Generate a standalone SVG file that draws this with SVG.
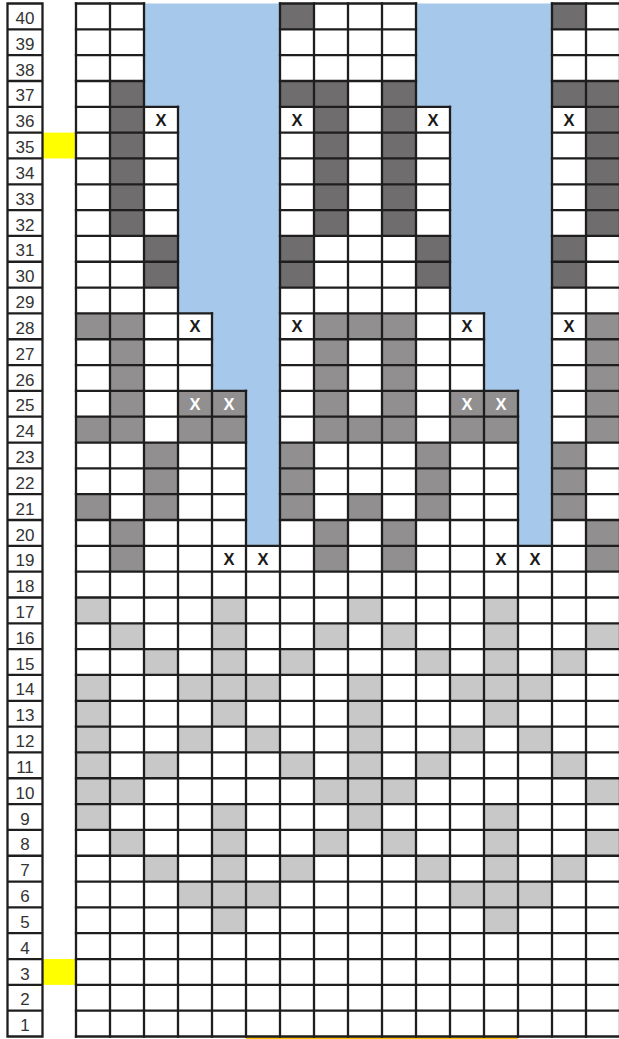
<svg xmlns="http://www.w3.org/2000/svg" width="619" height="1039" viewBox="0 0 619 1039">
<style>
.D{fill:#6f6d6e}
.M{fill:#918f90}
.L{fill:#c8c8c8}
.B{fill:#a6c8ea}
.Y{fill:#ffff00}
.grid{fill:none;stroke:#1e1e1e;stroke-width:2.3;stroke-linecap:square}
.num{font-family:"Liberation Sans",Arial,sans-serif;font-size:17px;fill:#333;text-anchor:middle}
.x{font-family:"Liberation Sans",Arial,sans-serif;font-size:16.5px;font-weight:bold;fill:#1a1a1a;text-anchor:middle}
.xw{fill:#ffffff}
</style>
<rect width="619" height="1039" fill="#ffffff"/>
<g id="highlights">
<rect class="Y" x="42.5" y="132.625" width="33.5" height="25.825"/>
<rect class="Y" x="42.5" y="959.025" width="33.5" height="25.825"/>
<rect x="246" y="1036.6" width="272" height="2.4" fill="#ffc000"/>
</g>
<g id="blue-areas">
<polygon class="B" points="144,3.5 280,3.5 280,545.825 246,545.825 246,390.875 212,390.875 212,313.4 178,313.4 178,106.8 144,106.8"/>
<polygon class="B" points="416,3.5 552,3.5 552,545.825 518,545.825 518,390.875 484,390.875 484,313.4 450,313.4 450,106.8 416,106.8"/>
</g>
<g id="dark-cells">
<rect class="D" x="280" y="3.5" width="34" height="25.825"/>
<rect class="D" x="552" y="3.5" width="34" height="25.825"/>
<rect class="D" x="280" y="80.975" width="34" height="25.825"/>
<rect class="D" x="552" y="80.975" width="34" height="25.825"/>
<rect class="D" x="110" y="80.975" width="34" height="154.95"/>
<rect class="D" x="314" y="80.975" width="34" height="154.95"/>
<rect class="D" x="382" y="80.975" width="34" height="154.95"/>
<rect class="D" x="586" y="80.975" width="34" height="154.95"/>
<rect class="D" x="144" y="235.925" width="34" height="51.65"/>
<rect class="D" x="280" y="235.925" width="34" height="51.65"/>
<rect class="D" x="416" y="235.925" width="34" height="51.65"/>
<rect class="D" x="552" y="235.925" width="34" height="51.65"/>
</g>
<g id="medium-cells">
<rect class="M" x="76" y="313.4" width="34" height="25.825"/>
<rect class="M" x="348" y="313.4" width="34" height="25.825"/>
<rect class="M" x="110" y="313.4" width="34" height="129.125"/>
<rect class="M" x="314" y="313.4" width="34" height="129.125"/>
<rect class="M" x="382" y="313.4" width="34" height="129.125"/>
<rect class="M" x="586" y="313.4" width="34" height="129.125"/>
<rect class="M" x="178" y="390.875" width="68" height="51.65"/>
<rect class="M" x="450" y="390.875" width="68" height="51.65"/>
<rect class="M" x="76" y="416.7" width="34" height="25.825"/>
<rect class="M" x="348" y="416.7" width="34" height="25.825"/>
<rect class="M" x="144" y="442.525" width="34" height="77.475"/>
<rect class="M" x="280" y="442.525" width="34" height="77.475"/>
<rect class="M" x="416" y="442.525" width="34" height="77.475"/>
<rect class="M" x="552" y="442.525" width="34" height="77.475"/>
<rect class="M" x="76" y="494.175" width="34" height="25.825"/>
<rect class="M" x="348" y="494.175" width="34" height="25.825"/>
<rect class="M" x="110" y="520" width="34" height="51.65"/>
<rect class="M" x="314" y="520" width="34" height="51.65"/>
<rect class="M" x="382" y="520" width="34" height="51.65"/>
<rect class="M" x="586" y="520" width="34" height="51.65"/>
</g>
<g id="light-cells">
<rect class="L" x="76" y="597.475" width="34" height="25.825"/>
<rect class="L" x="212" y="597.475" width="34" height="25.825"/>
<rect class="L" x="348" y="597.475" width="34" height="25.825"/>
<rect class="L" x="484" y="597.475" width="34" height="25.825"/>
<rect class="L" x="110" y="623.3" width="34" height="25.825"/>
<rect class="L" x="212" y="623.3" width="34" height="25.825"/>
<rect class="L" x="314" y="623.3" width="34" height="25.825"/>
<rect class="L" x="382" y="623.3" width="34" height="25.825"/>
<rect class="L" x="484" y="623.3" width="34" height="25.825"/>
<rect class="L" x="586" y="623.3" width="34" height="25.825"/>
<rect class="L" x="144" y="649.125" width="34" height="25.825"/>
<rect class="L" x="212" y="649.125" width="34" height="25.825"/>
<rect class="L" x="280" y="649.125" width="34" height="25.825"/>
<rect class="L" x="416" y="649.125" width="34" height="25.825"/>
<rect class="L" x="484" y="649.125" width="34" height="25.825"/>
<rect class="L" x="552" y="649.125" width="34" height="25.825"/>
<rect class="L" x="76" y="674.95" width="34" height="25.825"/>
<rect class="L" x="178" y="674.95" width="102" height="25.825"/>
<rect class="L" x="348" y="674.95" width="34" height="25.825"/>
<rect class="L" x="450" y="674.95" width="102" height="25.825"/>
<rect class="L" x="76" y="700.775" width="34" height="25.825"/>
<rect class="L" x="212" y="700.775" width="34" height="25.825"/>
<rect class="L" x="348" y="700.775" width="34" height="25.825"/>
<rect class="L" x="484" y="700.775" width="34" height="25.825"/>
<rect class="L" x="76" y="726.6" width="34" height="25.825"/>
<rect class="L" x="178" y="726.6" width="34" height="25.825"/>
<rect class="L" x="246" y="726.6" width="34" height="25.825"/>
<rect class="L" x="348" y="726.6" width="34" height="25.825"/>
<rect class="L" x="450" y="726.6" width="34" height="25.825"/>
<rect class="L" x="518" y="726.6" width="34" height="25.825"/>
<rect class="L" x="76" y="752.425" width="34" height="25.825"/>
<rect class="L" x="144" y="752.425" width="34" height="25.825"/>
<rect class="L" x="280" y="752.425" width="34" height="25.825"/>
<rect class="L" x="348" y="752.425" width="34" height="25.825"/>
<rect class="L" x="416" y="752.425" width="34" height="25.825"/>
<rect class="L" x="552" y="752.425" width="34" height="25.825"/>
<rect class="L" x="76" y="778.25" width="68" height="25.825"/>
<rect class="L" x="314" y="778.25" width="102" height="25.825"/>
<rect class="L" x="586" y="778.25" width="34" height="25.825"/>
<rect class="L" x="76" y="804.075" width="34" height="25.825"/>
<rect class="L" x="212" y="804.075" width="34" height="25.825"/>
<rect class="L" x="348" y="804.075" width="34" height="25.825"/>
<rect class="L" x="484" y="804.075" width="34" height="25.825"/>
<rect class="L" x="110" y="829.9" width="34" height="25.825"/>
<rect class="L" x="212" y="829.9" width="34" height="25.825"/>
<rect class="L" x="314" y="829.9" width="34" height="25.825"/>
<rect class="L" x="382" y="829.9" width="34" height="25.825"/>
<rect class="L" x="484" y="829.9" width="34" height="25.825"/>
<rect class="L" x="586" y="829.9" width="34" height="25.825"/>
<rect class="L" x="144" y="855.725" width="34" height="25.825"/>
<rect class="L" x="212" y="855.725" width="34" height="25.825"/>
<rect class="L" x="280" y="855.725" width="34" height="25.825"/>
<rect class="L" x="416" y="855.725" width="34" height="25.825"/>
<rect class="L" x="484" y="855.725" width="34" height="25.825"/>
<rect class="L" x="552" y="855.725" width="34" height="25.825"/>
<rect class="L" x="178" y="881.55" width="102" height="25.825"/>
<rect class="L" x="450" y="881.55" width="102" height="25.825"/>
<rect class="L" x="212" y="907.375" width="34" height="25.825"/>
<rect class="L" x="484" y="907.375" width="34" height="25.825"/>
</g>
<g id="grid-lines">
<path class="grid" d="M7.5,3.5V1036.5M42.5,3.5V1036.5
M7.5,3.5H42.5M7.5,29.325H42.5M7.5,55.15H42.5M7.5,80.975H42.5M7.5,106.8H42.5M7.5,132.625H42.5M7.5,158.45H42.5M7.5,184.275H42.5M7.5,210.1H42.5M7.5,235.925H42.5M7.5,261.75H42.5M7.5,287.575H42.5M7.5,313.4H42.5M7.5,339.225H42.5M7.5,365.05H42.5M7.5,390.875H42.5M7.5,416.7H42.5M7.5,442.525H42.5M7.5,468.35H42.5M7.5,494.175H42.5M7.5,520H42.5M7.5,545.825H42.5M7.5,571.65H42.5M7.5,597.475H42.5M7.5,623.3H42.5M7.5,649.125H42.5M7.5,674.95H42.5M7.5,700.775H42.5M7.5,726.6H42.5M7.5,752.425H42.5M7.5,778.25H42.5M7.5,804.075H42.5M7.5,829.9H42.5M7.5,855.725H42.5M7.5,881.55H42.5M7.5,907.375H42.5M7.5,933.2H42.5M7.5,959.025H42.5M7.5,984.85H42.5M7.5,1010.675H42.5M7.5,1036.5H42.5"/>
<path class="grid" d="M76,3.5V1036.5M110,3.5V1036.5M144,3.5V1036.5M178,106.8V1036.5M212,313.4V1036.5M246,390.875V1036.5M280,3.5V1036.5M314,3.5V1036.5M348,3.5V1036.5M382,3.5V1036.5M416,3.5V1036.5M450,106.8V1036.5M484,313.4V1036.5M518,390.875V1036.5M552,3.5V1036.5M586,3.5V1036.5M620,3.5V1036.5"/>
<path class="grid" d="M76,3.5H144M280,3.5H416M552,3.5H620M76,29.325H144M280,29.325H416M552,29.325H620M76,55.15H144M280,55.15H416M552,55.15H620M76,80.975H144M280,80.975H416M552,80.975H620
M76,106.8H178M280,106.8H450M552,106.8H620M76,132.625H178M280,132.625H450M552,132.625H620M76,158.45H178M280,158.45H450M552,158.45H620M76,184.275H178M280,184.275H450M552,184.275H620M76,210.1H178M280,210.1H450M552,210.1H620M76,235.925H178M280,235.925H450M552,235.925H620M76,261.75H178M280,261.75H450M552,261.75H620M76,287.575H178M280,287.575H450M552,287.575H620
M76,313.4H212M280,313.4H484M552,313.4H620M76,339.225H212M280,339.225H484M552,339.225H620M76,365.05H212M280,365.05H484M552,365.05H620
M76,390.875H246M280,390.875H518M552,390.875H620M76,416.7H246M280,416.7H518M552,416.7H620M76,442.525H246M280,442.525H518M552,442.525H620M76,468.35H246M280,468.35H518M552,468.35H620M76,494.175H246M280,494.175H518M552,494.175H620M76,520H246M280,520H518M552,520H620
M76,545.825H620M76,571.65H620M76,597.475H620M76,623.3H620M76,649.125H620M76,674.95H620M76,700.775H620M76,726.6H620M76,752.425H620M76,778.25H620M76,804.075H620M76,829.9H620M76,855.725H620M76,881.55H620M76,907.375H620M76,933.2H620M76,959.025H620M76,984.85H620M76,1010.675H620M76,1036.5H620"/>
</g>
<g id="row-numbers">
<text class="num" x="25" y="24">40</text>
<text class="num" x="25" y="49.825">39</text>
<text class="num" x="25" y="75.65">38</text>
<text class="num" x="25" y="101.475">37</text>
<text class="num" x="25" y="127.3">36</text>
<text class="num" x="25" y="153.125">35</text>
<text class="num" x="25" y="178.95">34</text>
<text class="num" x="25" y="204.775">33</text>
<text class="num" x="25" y="230.6">32</text>
<text class="num" x="25" y="256.425">31</text>
<text class="num" x="25" y="282.25">30</text>
<text class="num" x="25" y="308.075">29</text>
<text class="num" x="25" y="333.9">28</text>
<text class="num" x="25" y="359.725">27</text>
<text class="num" x="25" y="385.55">26</text>
<text class="num" x="25" y="411.375">25</text>
<text class="num" x="25" y="437.2">24</text>
<text class="num" x="25" y="463.025">23</text>
<text class="num" x="25" y="488.85">22</text>
<text class="num" x="25" y="514.675">21</text>
<text class="num" x="25" y="540.5">20</text>
<text class="num" x="25" y="566.325">19</text>
<text class="num" x="25" y="592.15">18</text>
<text class="num" x="25" y="617.975">17</text>
<text class="num" x="25" y="643.8">16</text>
<text class="num" x="25" y="669.625">15</text>
<text class="num" x="25" y="695.45">14</text>
<text class="num" x="25" y="721.275">13</text>
<text class="num" x="25" y="747.1">12</text>
<text class="num" x="25" y="772.925">11</text>
<text class="num" x="25" y="798.75">10</text>
<text class="num" x="25" y="824.575">9</text>
<text class="num" x="25" y="850.4">8</text>
<text class="num" x="25" y="876.225">7</text>
<text class="num" x="25" y="902.05">6</text>
<text class="num" x="25" y="927.875">5</text>
<text class="num" x="25" y="953.7">4</text>
<text class="num" x="25" y="979.525">3</text>
<text class="num" x="25" y="1005.35">2</text>
<text class="num" x="25" y="1031.175">1</text>
</g>
<g id="x-marks">
<text class="x" x="161" y="125.6">X</text>
<text class="x" x="297" y="125.6">X</text>
<text class="x" x="433" y="125.6">X</text>
<text class="x" x="569" y="125.6">X</text>
<text class="x" x="195" y="332.2">X</text>
<text class="x" x="297" y="332.2">X</text>
<text class="x" x="467" y="332.2">X</text>
<text class="x" x="569" y="332.2">X</text>
<text class="x xw" x="195" y="409.7">X</text>
<text class="x xw" x="229" y="409.7">X</text>
<text class="x xw" x="467" y="409.7">X</text>
<text class="x xw" x="501" y="409.7">X</text>
<text class="x" x="229" y="564.6">X</text>
<text class="x" x="263" y="564.6">X</text>
<text class="x" x="501" y="564.6">X</text>
<text class="x" x="535" y="564.6">X</text>
</g>
</svg>
